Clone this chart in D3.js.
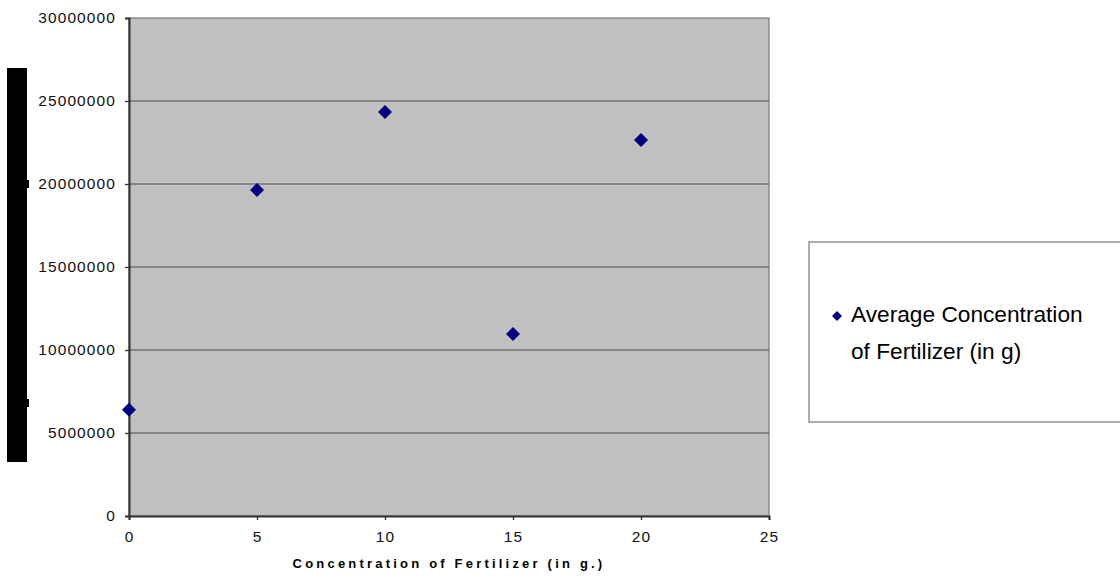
<!DOCTYPE html>
<html><head><meta charset="utf-8">
<script src="https://cdn.jsdelivr.net/npm/d3@7"></script>
<style>
html,body{margin:0;padding:0;background:#fff;}
svg{display:block;}
text{font-family:Arial,"Liberation Sans",sans-serif;}
</style></head>
<body>
<svg id="chart" width="1120" height="576"></svg>
<script>
const concentrations = [0, 5, 10, 15, 20];
const averageValues = [6400000, 19640000, 24340000, 10960000, 22650000];
const seriesName = ["Average Concentration", "of Fertilizer (in g)"];
const xTicks = [0, 5, 10, 15, 20, 25];
const yTicks = [0, 5000000, 10000000, 15000000, 20000000, 25000000, 30000000];
const xTitle = "Concentration of Fertilizer (in g.)";

(function () {
const svg = d3.select("#chart");
const pL = 129, pR = 769, pT = 18, pB = 516;
const x = d3.scaleLinear().domain([0, 25]).range([pL, pR]);
const y = d3.scaleLinear().domain([0, 30000000]).range([pB, pT]);

// plot background
svg.append("rect").attr("x", pL).attr("y", pT)
  .attr("width", pR - pL).attr("height", pB - pT)
  .attr("fill", "#c0c0c0").attr("stroke", "#808080").attr("stroke-width", 1.3);

// gridlines
svg.append("g").selectAll("line").data(yTicks.filter(d => d > 0 && d < 30000000)).join("line")
  .attr("x1", pL).attr("x2", pR)
  .attr("y1", d => y(d)).attr("y2", d => y(d))
  .attr("stroke", "#4a4a4a").attr("stroke-width", 1.2);

// axes
const yAxis = d3.axisLeft(y).tickValues(yTicks).tickFormat(d3.format("d")).tickSize(4).tickPadding(9);
const gy = svg.append("g").attr("transform", `translate(${pL},0)`).call(yAxis);
const xAxis = d3.axisBottom(x).tickValues(xTicks).tickFormat(d3.format("d")).tickSize(4).tickPadding(11);
const gx = svg.append("g").attr("transform", `translate(0,${pB})`).call(xAxis);
[gy, gx].forEach(g => {
  g.select(".domain").attr("stroke", "#333").attr("stroke-width", 2);
  g.selectAll(".tick line").attr("stroke", "#333").attr("stroke-width", 1.3);
  g.selectAll(".tick text").attr("font-size", 15.5).attr("fill", "#111")
    .attr("font-family", "Arial, 'Liberation Sans', sans-serif")
    .style("letter-spacing", "1.1px");
});

// x-axis title
svg.append("text").attr("x", (pL + pR) / 2).attr("y", 568)
  .attr("text-anchor", "middle").attr("font-size", 13).attr("font-weight", "bold")
  .style("letter-spacing", "3.2px").attr("fill", "#000").text(xTitle);

// y-axis title block (rendered as black block in reference)
svg.append("rect").attr("x", 7).attr("y", 68).attr("width", 20).attr("height", 394).attr("fill", "#000");
svg.append("rect").attr("x", 27).attr("y", 180).attr("width", 2).attr("height", 8).attr("fill", "#000");
svg.append("rect").attr("x", 27).attr("y", 399).attr("width", 2).attr("height", 8).attr("fill", "#000");

// diamond marker
function diamond(cx, cy, r) {
  return `M${cx},${cy - r}L${cx + r},${cy}L${cx},${cy + r}L${cx - r},${cy}Z`;
}
svg.append("g").selectAll("path").data(concentrations.map((c, i) => [c, averageValues[i]])).join("path")
  .attr("d", d => diamond(x(d[0]), y(d[1]), 7))
  .attr("fill", "#000080");

// legend
svg.append("rect").attr("x", 809).attr("y", 242).attr("width", 320).attr("height", 180)
  .attr("fill", "#fff").attr("stroke", "#808080").attr("stroke-width", 1.3);
svg.append("path").attr("d", diamond(837, 316, 5)).attr("fill", "#000080");
svg.append("text").attr("x", 851).attr("y", 322).attr("font-size", 22.7).attr("fill", "#000").text(seriesName[0]);
svg.append("text").attr("x", 851).attr("y", 359).attr("font-size", 22.7).attr("fill", "#000").text(seriesName[1]);
})();
</script>
</body></html>
